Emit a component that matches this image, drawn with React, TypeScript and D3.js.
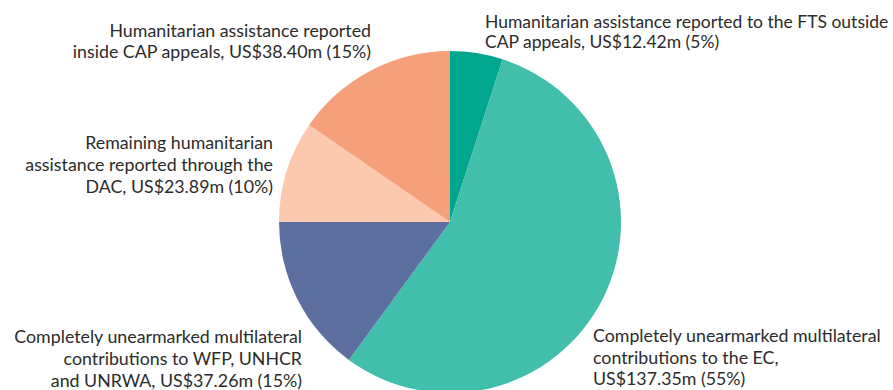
import * as React from 'react';
import * as d3 from 'd3';

const width = 893;
const height = 390;

const categories = ['fts', 'ec', 'wfp', 'dac', 'cap'];
const values = [12.42, 137.35, 37.26, 23.89, 38.4];
const colors = ['#00a68e', '#41bfac', '#5d6f9f', '#fcc9ae', '#f5a07a'];

const labelLines = [
  ['Humanitarian assistance reported to the FTS outside', 'CAP appeals, US$12.42m (5%)'],
  ['Completely unearmarked multilateral', 'contributions to the EC,', 'US$137.35m (55%)'],
  ['Completely unearmarked multilateral', 'contributions to WFP, UNHCR', 'and UNRWA, US$37.26m (15%)'],
  ['Remaining humanitarian', 'assistance reported through the', 'DAC, US$23.89m (10%)'],
  ['Humanitarian assistance reported', 'inside CAP appeals, US$38.40m (15%)'],
];

// label anchor: x, first baseline, line step, alignment
const labelPos: [number, number, number, 'start' | 'end'][] = [
  [485, 28, 20, 'start'],
  [593, 342, 21.5, 'start'],
  [302, 343, 22, 'end'],
  [273, 149, 22, 'end'],
  [371, 37, 21, 'end'],
];

const cx = 450;
const cy = 222;
const radius = 171;

export default function App() {
  const pie = d3.pie<number>().sort(null).value(d => d);
  const arcs = pie(values);
  const arc = d3.arc<d3.PieArcDatum<number>>().innerRadius(0).outerRadius(radius);

  return (
    <svg width={width} height={height} style={{position: 'absolute', left: 0, top: 0}}>
      <g transform={`translate(${cx},${cy})`}>
        {arcs.map((a, i) => (
          <path key={categories[i]} d={arc(a) || ''} fill={colors[i]} />
        ))}
      </g>
      <g fontFamily="Lato, 'Open Sans', sans-serif" fill="#2b2b2b">
        {labelLines.map((lines, i) => {
          const [x, y, step, anchor] = labelPos[i];
          return (
            <text key={categories[i]} textAnchor={anchor} fontSize={i === 0 ? 17.5 : 17.8}>
              {lines.map((l, j) => (
                <tspan key={j} x={x} y={y + j * step}>{l}</tspan>
              ))}
            </text>
          );
        })}
      </g>
    </svg>
  );
}
